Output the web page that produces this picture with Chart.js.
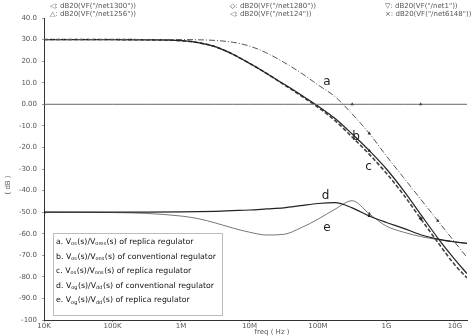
<!DOCTYPE html>
<html>
<head>
<meta charset="utf-8">
<script src="https://cdn.jsdelivr.net/npm/chart.js@4"></script>
<style>
  body { margin: 0; background: #fff; }
  #wrap { width: 471px; height: 336px; position: relative; }
</style>
</head>
<body>
<div id="wrap"><canvas id="freqChart"></canvas></div>
<script>
// frequency points (Hz) shared by all traces
const freqs = [1e4, 1e5, 3.16e5, 1e6, 1.78e6, 3.16e6, 5.62e6, 1e7, 1.78e7, 3.16e7, 5.62e7,
  1e8, 1.78e8, 3.16e8, 5.62e8, 1e9, 1.78e9, 3.16e9, 5.62e9, 1e10, 1.5e10];

// traces in dB
const curveA = [30, 30, 30, 30, 29.9, 29.6, 28.8, 27, 23.8, 19.5, 14.6, 9, 3.5, -4.5, -13.5, -24, -34, -44, -54, -64, -71];
const curveB = [30, 30, 29.9, 29.5, 28.6, 26.7, 23.3, 19, 14.3, 9.4, 4.4, -0.8, -6.6, -13.8, -21.5, -30, -40, -51, -62, -72, -78.5];
const curveC = [30, 30, 29.9, 29.5, 28.6, 26.7, 23.3, 19, 14.3, 9.2, 4, -1.4, -7.6, -15.2, -23.2, -32, -42, -53, -64, -74.5, -80.5];
const curveD = [-50, -50, -50, -49.9, -49.8, -49.6, -49.3, -49, -48.5, -48, -47, -46, -45.6, -48, -51.8, -54.8, -57.5, -60.5, -62.5, -63.8, -64.5];
const curveE = [-50, -50.2, -50.6, -51.8, -53, -55, -57.3, -59.3, -60.6, -60.3, -57.3, -53.3, -48.6, -44.7, -50.8, -56.5, -59.3, -61.3, -62.7, -63.8, -64.5];
const zeroRef = freqs.map(() => 0);

const xTickValues = [1e4, 1e5, 1e6, 1e7, 1e8, 1e9, 1e10];
const xTickLabels = ['10K', '100K', '1M', '10M', '100M', '1G', '10G'];
const yTickValues = [40, 30, 20, 10, 0, -10, -20, -30, -40, -50, -60, -70, -80, -90, -100];
const yTickLabels = ['40.0', '30.0', '20.0', '10.0', '0.00', '-10.0', '-20.0', '-30.0', '-40.0', '-50.0', '-60.0', '-70.0', '-80.0', '-90.0', '-100'];

const headerItems = [
  ['\u25C1: dB20(VF("/net1300"))', '\u25C7: dB20(VF("/net1280"))', '\u25BD: dB20(VF("/net1"))'],
  ['\u25B3: dB20(VF("/net1256"))', '\u25C1: dB20(VF("/net124"))', '\u00D7: dB20(VF("/net6148"))']
];
const legendLines = [
  'a. V_{os}(s)/V_{ores}(s) of replica regulator',
  'b. V_{os}(s)/V_{ons}(s) of conventional regulator',
  'c. V_{os}(s)/V_{ons}(s) of replica regulator',
  'd. V_{og}(s)/V_{dd}(s) of conventional regulator',
  'e. V_{og}(s)/V_{dd}(s) of replica regulator'
];
const curveNames = ['a', 'b', 'c', 'd', 'e'];
// label anchor points (freq, dB)
const labelFreqs = [1.35e8, 3.6e8, 5.5e8, 1.29e8, 1.35e8];
const labelDb = [10.5, -15, -29, -42.4, -57.3];

function pts(vals) {
  return vals.map((v, i) => ({ x: freqs[i], y: v }));
}
function marks(idx) {
  return ctx => idx.includes(ctx.dataIndex) ? 2 : 0;
}

const overlay = {
  id: 'overlay',
  afterDraw(chart) {
    const c = chart.ctx;
    const xs = chart.scales.x, ys = chart.scales.y;
    c.save();

    // header
    c.fillStyle = '#555';
    c.font = '7px "DejaVu Sans"';
    c.textBaseline = 'middle';
    const hx = [50, 230, 385];
    headerItems.forEach((row, r) => {
      row.forEach((t, k) => c.fillText(t, hx[k], 6 + r * 8));
    });

    // axis titles
    c.fillStyle = '#555';
    c.textAlign = 'center';
    c.fillText('freq ( Hz )', 272, 332);
    c.translate(8, 185);
    c.rotate(-Math.PI / 2);
    c.fillText('( dB )', 0, 0);
    c.setTransform(1, 0, 0, 1, 0, 0);

    // curve labels
    c.fillStyle = '#222';
    c.font = '12px "DejaVu Sans"';
    curveNames.forEach((n, i) => c.fillText(n, xs.getPixelForValue(labelFreqs[i]), ys.getPixelForValue(labelDb[i])));

    // legend box
    c.fillStyle = '#fff';
    c.fillRect(53, 233, 169, 82);
    c.strokeStyle = '#777';
    c.setLineDash([1, 1]);
    c.lineWidth = 1;
    c.strokeRect(53.5, 233.5, 169, 82);
    c.setLineDash([]);
    c.textAlign = 'left';
    c.fillStyle = '#111';
    legendLines.forEach((line, i) => {
      let x = 56;
      const y = 242 + i * 14.6;
      line.split(/(_\{[^}]*\})/).forEach(part => {
        if (!part) return;
        if (part.startsWith('_{')) {
          c.font = '5px "DejaVu Sans"';
          const t = part.slice(2, -1);
          c.fillText(t, x, y + 2);
          x += c.measureText(t).width + 0.5;
        } else {
          c.font = '7.8px "DejaVu Sans"';
          c.fillText(part, x, y);
          x += c.measureText(part).width;
        }
      });
    });
    c.restore();
  }
};

new Chart(document.getElementById('freqChart'), {
  type: 'line',
  data: {
    datasets: [
      { label: 'zero', data: pts(zeroRef), borderColor: '#666', borderWidth: 1, pointRadius: marks([13, 17]), pointStyle: 'triangle', pointBackgroundColor: '#444', pointBorderWidth: 0 },
      { label: 'a', data: pts(curveA), borderColor: '#555', borderWidth: 1, borderDash: [6, 2, 1, 2], pointRadius: marks([14, 18]), pointStyle: 'triangle', pointBackgroundColor: '#333', pointBorderWidth: 0 },
      { label: 'b', data: pts(curveB), borderColor: '#222', borderWidth: 1.2, pointRadius: marks([14]), pointStyle: 'triangle', pointBackgroundColor: '#222', pointBorderWidth: 0 },
      { label: 'c', data: pts(curveC), borderColor: '#444', borderWidth: 1.6, borderDash: [4, 2], pointRadius: marks([17]), pointStyle: 'rectRot', pointBackgroundColor: '#222', pointBorderWidth: 0 },
      { label: 'd', data: pts(curveD), borderColor: '#222', borderWidth: 1.2, pointRadius: marks([0, 14]), pointStyle: 'triangle', pointBackgroundColor: '#222', pointBorderWidth: 0 },
      { label: 'e', data: pts(curveE), borderColor: '#777', borderWidth: 1, pointRadius: marks([0, 14]), pointStyle: 'triangle', pointBackgroundColor: '#444', pointBorderWidth: 0 }
    ]
  },
  options: {
    responsive: true,
    maintainAspectRatio: false,
    animation: false,
    cubicInterpolationMode: 'monotone',
    layout: { padding: { top: 18, right: 1, left: 0, bottom: 0 } },
    plugins: { legend: { display: false }, tooltip: { enabled: false } },
    scales: {
      x: {
        type: 'logarithmic',
        min: 1e4,
        max: 1.5e10,
        afterBuildTicks: s => { s.ticks = xTickValues.map(v => ({ value: v })); },
        afterFit: s => { s.height = 16; },
        ticks: {
          autoSkip: false, maxRotation: 0, padding: 0,
          color: '#555', font: { size: 7, family: 'DejaVu Sans' },
          callback: (v, i) => xTickLabels[i]
        },
        grid: { drawOnChartArea: false, tickLength: 2, color: '#999' },
        border: { color: '#333', dash: [1, 1] }
      },
      y: {
        min: -100,
        max: 40,
        afterBuildTicks: s => { s.ticks = yTickValues.map(v => ({ value: v })); },
        afterFit: s => { s.width = 44; },
        ticks: {
          autoSkip: false, padding: 5,
          color: '#555', font: { size: 7, family: 'DejaVu Sans' },
          callback: (v, i) => yTickLabels[i]
        },
        grid: { drawOnChartArea: false, tickLength: 2, color: '#999' },
        border: { color: '#333', dash: [1, 1] }
      }
    }
  },
  plugins: [overlay]
});
</script>
</body>
</html>
